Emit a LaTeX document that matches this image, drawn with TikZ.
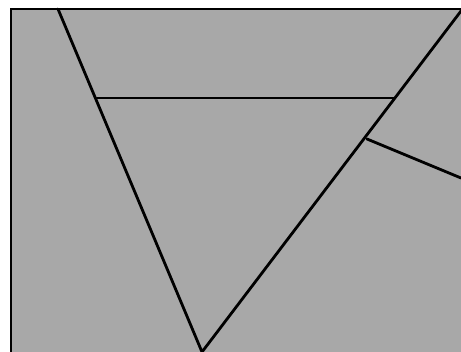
\documentclass[tikz,border=0pt]{standalone}
\definecolor{texgray}{RGB}{168,168,168}
\tikzset{edge/.style={draw=black,line width=2.8pt,line cap=round}}
\begin{document}
\begin{tikzpicture}[x=1pt,y=-1pt]
\useasboundingbox (0,0) rectangle (461,352);
\fill[white] (0,0) rectangle (461,352);
\fill[texgray] (11,9) rectangle (461,352);
\draw[line width=2.8pt] (11,352) -- (11,9) -- (461,9);
\coordinate (a) at (58,9);
\coordinate (v) at (202,352);
\coordinate (h1) at (97,98);
\coordinate (h2) at (394,98);
\coordinate (tr) at (461,11);
\coordinate (j) at (367,139);
\coordinate (r) at (461,178);
\draw[edge] (a) -- (v) -- (tr);
\draw[edge] (h1) -- (h2);
\draw[edge] (j) -- (r);
\end{tikzpicture}
\end{document}
